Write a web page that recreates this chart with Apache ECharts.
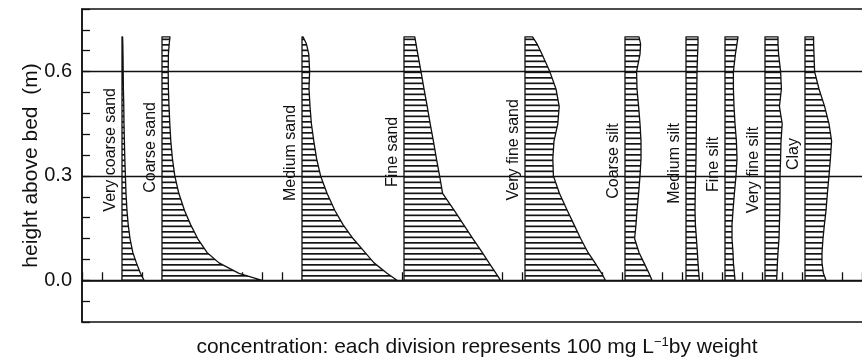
<!DOCTYPE html>
<html>
<head>
<meta charset="utf-8">
<script src="https://cdn.jsdelivr.net/npm/echarts@6/dist/echarts.min.js"></script>
<style>
  html, body { margin: 0; padding: 0; background: #fff; }
  #chart { width: 862px; height: 361px; }
</style>
</head>
<body>
<div id="chart"></div>
<script>
// Size fractions, left to right
const fractions = ['Very coarse sand', 'Coarse sand', 'Medium sand', 'Fine sand', 'Very fine sand',
                   'Coarse silt', 'Medium silt', 'Fine silt', 'Very fine silt', 'Clay'];

// Where each profile's zero line sits on the concentration axis (mg/L)
const profileStart = [200, 400, 1100, 1610, 2215, 2715, 3020, 3215, 3415, 3615];

// Heights above bed (m) at which each profile is given
const heights = [0, 0.02, 0.05, 0.08, 0.12, 0.16, 0.2, 0.25, 0.3, 0.35, 0.4, 0.45, 0.5, 0.55, 0.6, 0.65, 0.68, 0.7];

// Concentration (mg/L) at each height
const veryCoarseSand = [110, 92, 72, 54, 40, 31, 25, 20, 17, 14, 12, 10, 9, 7, 6, 5, 4, 3];
const coarseSand     = [500, 385, 285, 225, 178, 143, 113, 84, 64, 52, 44, 39, 35, 32, 31, 32, 36, 40];
const mediumSand     = [475, 425, 360, 315, 255, 205, 165, 125, 93, 73, 59, 47, 40, 35, 38, 34, 22, 5];
const fineSand       = [483, 460, 425, 391, 344, 298, 252, 193, 178, 162, 147, 131, 116, 100, 85, 69, 60, 54];
const veryFineSand   = [402, 383, 350, 315, 278, 245, 212, 172, 142, 139, 145, 164, 171, 155, 124, 85, 60, 38];
const coarseSilt     = [135, 120, 95, 70, 48, 55, 60, 68, 75, 80, 80, 75, 68, 60, 58, 75, 78, 70];
const mediumSilt     = [67, 64, 60, 57, 52, 47, 45, 46, 48, 50, 51, 52, 53, 54, 55, 58, 60, 60];
const fineSilt       = [50, 47, 42, 40, 35, 35, 40, 47, 55, 60, 57, 50, 45, 42, 42, 52, 60, 65];
const veryFineSilt   = [58, 60, 62, 65, 70, 72, 74, 75, 75, 78, 80, 86, 72, 82, 78, 68, 65, 65];
const clay           = [105, 92, 85, 85, 90, 97, 105, 112, 120, 127, 133, 120, 98, 70, 48, 45, 43, 43];

const profiles = [veryCoarseSand, coarseSand, mediumSand, fineSand, veryFineSand,
                  coarseSilt, mediumSilt, fineSilt, veryFineSilt, clay];

// Labelled heights on the vertical axis
const yTickLabels = ['0.0', '0.3', '0.6'];

// Layout: height (m) at which each rotated name is centred
const nameAt = [0.375, 0.382, 0.366, 0.369, 0.375, 0.343, 0.336, 0.333, 0.317, 0.363];

// Horizontal hatching used to fill the profiles
function hatchPattern() {
  const c = document.createElement('canvas');
  c.width = 8; c.height = 11;
  const g = c.getContext('2d');
  g.fillStyle = '#fff';
  g.fillRect(0, 0, 8, 11);
  g.fillStyle = '#141414';
  g.fillRect(0, 0, 8, 1.7);
  g.fillRect(0, 5.5, 8, 1.7);
  return c;
}
const hatch = { image: hatchPattern(), repeat: 'repeat' };

const FONT = '"Liberation Sans", Arial, Helvetica, sans-serif';
const INK = '#111';

function renderProfile(params, api) {
  const i = api.value(0);
  const x0 = profileStart[i];
  const conc = profiles[i];
  const pts = [api.coord([x0, heights[0]])];
  for (let j = 0; j < heights.length; j++) {
    pts.push(api.coord([x0 + conc[j], heights[j]]));
  }
  pts.push(api.coord([x0, heights[heights.length - 1]]));
  const base = api.coord([x0, 0]);
  const labelY = api.coord([x0, nameAt[i]])[1];
  return {
    type: 'group',
    children: [
      {
        type: 'polygon',
        shape: { points: pts },
        style: { fill: hatch, stroke: INK, lineWidth: 1.3, lineJoin: 'round' }
      },
      {
        type: 'text',
        x: base[0] - 11,
        y: labelY,
        rotation: Math.PI / 2,
        style: {
          text: fractions[i],
          font: '16px ' + FONT,
          fill: INK,
          align: 'center',
          verticalAlign: 'middle'
        }
      }
    ]
  };
}

const chart = echarts.init(document.getElementById('chart'), null, { renderer: 'canvas' });

chart.setOption({
  animation: false,
  backgroundColor: '#fff',
  grid: {
    left: 82, top: 9, width: 790, height: 313,
    outerBoundsMode: 'none',
    containLabel: false,
    show: true, borderColor: INK, borderWidth: 1.5, backgroundColor: 'transparent'
  },
  xAxis: {
    type: 'value',
    min: 0, max: 3950, interval: 100,
    axisLine: { show: true, lineStyle: { color: INK, width: 1.5 } },
    axisTick: { show: true, inside: true, length: 8, lineStyle: { color: INK, width: 1.3 } },
    axisLabel: { show: false },
    splitLine: { show: false },
    name: '{t|concentration: each division represents 100 mg L}{s|\u22121}{t|by weight}',
    nameLocation: 'middle',
    nameGap: 14,
    nameMoveOverlap: false,
    nameTextStyle: {
      verticalAlign: 'top',
      rich: {
        t: { fontFamily: FONT, fontSize: 21, color: INK, lineHeight: 23 },
        s: { fontFamily: FONT, fontSize: 13, color: INK, lineHeight: 14, verticalAlign: 'top' }
      }
    }
  },
  yAxis: {
    type: 'value',
    min: -0.12, max: 0.78, interval: 0.06,
    axisLine: { show: true, lineStyle: { color: INK, width: 1.5 } },
    axisTick: { show: true, inside: true, length: 8, lineStyle: { color: INK, width: 1.3 } },
    axisLabel: {
      margin: 10,
      fontFamily: FONT, fontSize: 20, color: INK,
      formatter: function (v) {
        const s = v.toFixed(1);
        return yTickLabels.indexOf(s) >= 0 && Math.abs(v - parseFloat(s)) < 1e-6 ? s : '';
      }
    },
    splitLine: { show: false },
    name: 'height above bed  (m)',
    nameLocation: 'middle',
    nameGap: 40,
    nameMoveOverlap: false,
    nameRotate: 90,
    nameTextStyle: { fontFamily: FONT, fontSize: 21, color: INK }
  },
  series: [
    {
      type: 'line',
      data: [],
      z: 1,
      silent: true,
      markLine: {
        silent: true,
        symbol: 'none',
        label: { show: false },
        lineStyle: { color: INK, width: 1.3, type: 'solid' },
        data: yTickLabels.map(function (t) { return { yAxis: parseFloat(t) }; })
      }
    },
    {
      type: 'custom',
      z: 3,
      silent: true,
      clip: false,
      renderItem: renderProfile,
      data: fractions.map(function (name, i) { return [i, 0]; }),
      encode: { x: -1, y: -1 }
    }
  ]
});
</script>
</body>
</html>
